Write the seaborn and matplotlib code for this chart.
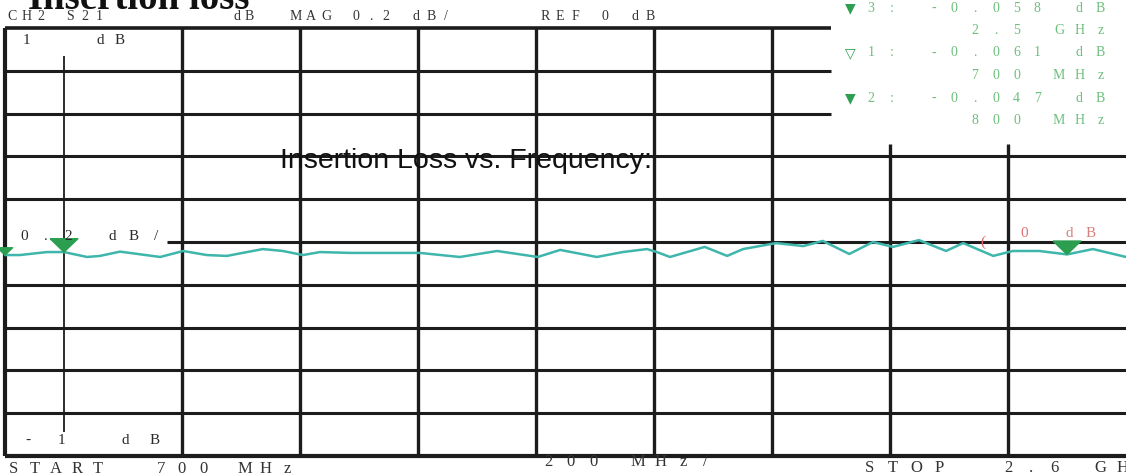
import numpy as np
import matplotlib
matplotlib.use("Agg")
import matplotlib.pyplot as plt
import seaborn as sns
import pandas as pd

sns.set_style("white")
plt.rcParams['font.family'] = ['Liberation Serif', 'DejaVu Sans']

# trace (S21, dB)
freq_mhz = [700, 725, 771, 800, 839, 861, 895, 963, 1002, 1042, 1076, 1137, 1171,
            1205, 1234, 1285, 1336, 1403, 1471, 1534, 1603, 1641, 1703, 1747, 1788,
            1805, 1827, 1886, 1924, 1951, 2007, 2053, 2086, 2131, 2171, 2205, 2249,
            2295, 2324, 2375, 2408, 2453, 2500, 2544, 2600]
loss_db = [-0.061, -0.061, -0.047, -0.047, -0.070, -0.065, -0.045, -0.070, -0.042,
           -0.061, -0.065, -0.033, -0.042, -0.061, -0.047, -0.051, -0.051, -0.051,
           -0.070, -0.042, -0.070, -0.037, -0.070, -0.047, -0.033, -0.047, -0.070,
           -0.023, -0.065, -0.033, -0.005, -0.019, 0.005, -0.056, 0.0, -0.023,
           0.009, -0.042, -0.005, -0.065, -0.042, -0.042, -0.058, -0.033, -0.070]

# markers
mk_num = ['3', '1', '2']
mk_freq = [2500, 700, 800]
mk_val = [-0.058, -0.061, -0.047]
mk_freq_txt = ['2.5 GHz', '700 MHz', '800 MHz']
mk_open = [False, True, False]

# screen scale
f_start, f_stop = 700, 2600
db_top, db_bot = 1.0, -1.0
grid_freqs = [1000, 1200, 1400, 1600, 1800, 2000, 2200, 2400]
grid_db = [0.8, 0.6, 0.4, 0.2, 0.0, -0.2, -0.4, -0.6, -0.8]

W, H = 1126, 474
fig = plt.figure(figsize=(W / 100, H / 100), dpi=100)
ax = fig.add_axes([5 / W, (H - 456) / H, (W - 5) / W, (456 - 28) / H])
ax.set_xlim(f_start, f_stop)
ax.set_ylim(db_bot, db_top)
ax.axis('off')

ink = '#1c1c1c'
# grid: top-right corner is covered by the marker readout box
for f in grid_freqs:
    top = db_top if f <= 2000 else 0.46
    ax.vlines(f, db_bot, top, color=ink, lw=2.4, clip_on=False)
for d in grid_db:
    x0 = 975 if d == 0 else f_start
    x1 = 2100 if d >= 0.6 else f_stop
    ax.hlines(d, x0, x1, color=ink, lw=2.2, clip_on=False)
ax.hlines(db_top, f_start, 2100, color=ink, lw=2.6, clip_on=False)
ax.hlines(db_bot, f_start, f_stop, color=ink, lw=3.0, clip_on=False)
ax.vlines(f_start, db_bot, db_top, color=ink, lw=3.0, clip_on=False)
ax.vlines(800, -0.89, 0.87, color=ink, lw=1.3, clip_on=False)

df = pd.DataFrame({'freq': freq_mhz, 'loss': loss_db})
sns.lineplot(data=df, x='freq', y='loss', ax=ax, color='#3fb6ab', lw=1.8,
             legend=False, clip_on=False)

tri = [(-1, 0.96), (1, 0.96), (0, 0), (-1, 0.96)]
ax.scatter(mk_freq, mk_val, marker=tri, s=[400, 120, 400], color='#2b9e4f',
           zorder=5, clip_on=False)


def px(x, y):
    return x / W, 1 - y / H


def spaced(x0, y, s, step, **kw):
    for i, ch in enumerate(s):
        if ch != ' ':
            fig.text(*px(x0 + i * step, y), ch, ha='center', va='center', **kw)


# title and header line
fig.text(*px(28, 9), 'Insertion loss', fontsize=28, fontweight='bold',
         ha='left', va='baseline', color='#111111')
hdr = dict(fontsize=10, color='#333333')
spaced(12, 17, 'CH2 S21', 14.5, **hdr)
spaced(237, 17, 'dB', 12, **hdr)
spaced(296, 17, 'MAG 0.2 dB/', 15, **hdr)
spaced(545, 17, 'REF 0 dB', 15, **hdr)

# marker readout
green_txt = '#6cbf7c'
for i in range(len(mk_num)):
    y = 8 + i * 45
    fig.text(*px(850, y), '▽' if mk_open[i] else '▼', ha='center', va='center',
             fontsize=10, color='#2e9e50', family='DejaVu Sans')
    spaced(871, y, f'{mk_num[i]}: {mk_val[i]:.3f} dB', 20.8, fontsize=10,
           color=green_txt)
    spaced(1101 - 6 * 21, y + 22.5, mk_freq_txt[i], 21, fontsize=10,
           color=green_txt)

# scale labels on the screen
lab = dict(fontsize=11, color='#2a2a2a')
spaced(26, 40, '1', 20, **lab)
spaced(100, 40, 'dB', 20, **lab)
spaced(24, 237, '0.2 dB/', 22, **lab)
spaced(28, 440, '-1', 33, **lab)
spaced(125, 440, 'dB', 30, **lab)
spaced(983, 242, '(', 10, fontsize=11, color='#e06464')
spaced(1024, 234, '0', 20, fontsize=11, color='#e07070')
spaced(1069, 234, 'dB', 22, fontsize=11, color='#d88080')

# bottom annotations
bot = dict(fontsize=12, color='#333333')
spaced(14, 469, 'START  700 MHz', 21, **bot)
spaced(548, 462, '200 MHz/', 22.5, **bot)
spaced(870, 468, 'STOP  2.6 GHz', 23, **bot)

fig.text(*px(280, 168), 'Insertion Loss vs. Frequency:', fontsize=20.5,
         family=['Liberation Sans', 'DejaVu Sans'], ha='left', va='baseline',
         color='#111111')

fig.savefig('out.png', dpi=100, facecolor='white')
